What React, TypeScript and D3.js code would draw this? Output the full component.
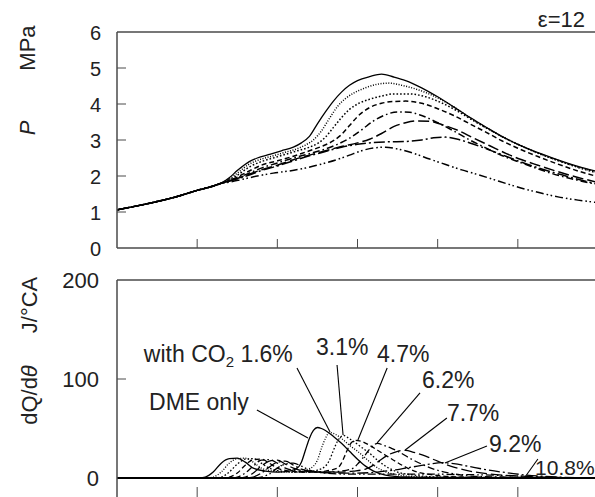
import React from "react";
import * as d3 from "d3";

type Pt = [number, number];

// crank angle ticks (deg) and value ticks
const xTickValues = [-40, -20, 0, 20, 40];
const pTickValues = [0, 1, 2, 3, 4, 5, 6];
const qTickValues = [0, 100, 200];

const seriesNames = ["DME only", "1.6%", "3.1%", "4.7%", "6.2%", "7.7%", "9.2%", "10.8%"];

// common compression part of the pressure traces (MPa)
const compression: Pt[] = [[-60, 1.06], [-55, 1.17], [-50, 1.29], [-45, 1.43], [-40, 1.6], [-36, 1.72], [-34, 1.8]];

const pDME: Pt[] = [[-32, 1.95], [-30, 2.15], [-27, 2.4], [-25, 2.5], [-22, 2.6], [-19, 2.7], [-16, 2.8], [-14, 2.92], [-12, 3.1], [-10, 3.45], [-8, 3.78], [-6, 4.08], [-4, 4.33], [-2, 4.52], [0, 4.65], [3, 4.76], [6, 4.83], [9, 4.75], [12, 4.65], [16, 4.45], [20, 4.2], [24, 3.92], [28, 3.63], [32, 3.36], [36, 3.1], [40, 2.88], [45, 2.65], [50, 2.45], [55, 2.27], [60, 2.12]];
const p16: Pt[] = [[-32, 1.92], [-30, 2.08], [-27, 2.33], [-24, 2.47], [-21, 2.56], [-18, 2.66], [-15, 2.76], [-13, 2.86], [-11, 3.0], [-9, 3.25], [-7, 3.6], [-5, 3.93], [-3, 4.15], [-1, 4.3], [2, 4.45], [5, 4.55], [8, 4.58], [11, 4.52], [15, 4.4], [20, 4.17], [24, 3.92], [28, 3.62], [32, 3.35], [36, 3.1], [40, 2.88], [45, 2.63], [50, 2.43], [55, 2.25], [60, 2.1]];
const p31: Pt[] = [[-32, 1.9], [-30, 2.02], [-27, 2.25], [-24, 2.4], [-21, 2.5], [-18, 2.6], [-15, 2.7], [-12, 2.8], [-10, 2.9], [-8, 3.08], [-6, 3.35], [-4, 3.62], [-2, 3.85], [0, 4.0], [3, 4.13], [6, 4.22], [9, 4.28], [13, 4.28], [17, 4.2], [21, 4.03], [25, 3.8], [29, 3.53], [33, 3.28], [37, 3.04], [41, 2.83], [45, 2.64], [50, 2.43], [55, 2.24], [60, 2.08]];
const p47: Pt[] = [[-32, 1.88], [-30, 1.97], [-27, 2.14], [-24, 2.3], [-20, 2.42], [-16, 2.55], [-12, 2.7], [-9, 2.82], [-6, 2.98], [-4, 3.15], [-2, 3.4], [0, 3.65], [3, 3.9], [6, 4.02], [9, 4.07], [12, 4.08], [16, 4.02], [20, 3.87], [24, 3.68], [28, 3.45], [32, 3.22], [36, 2.98], [40, 2.77], [45, 2.54], [50, 2.33], [55, 2.14], [60, 1.98]];
const p62: Pt[] = [[-32, 1.87], [-30, 1.95], [-27, 2.08], [-24, 2.22], [-20, 2.36], [-16, 2.5], [-12, 2.62], [-8, 2.75], [-5, 2.88], [-2, 3.05], [1, 3.28], [4, 3.53], [7, 3.7], [10, 3.78], [13, 3.77], [16, 3.68], [20, 3.48], [24, 3.25], [28, 3.0], [32, 2.78], [36, 2.57], [40, 2.4], [45, 2.2], [50, 2.02], [55, 1.88], [60, 1.76]];
const p77: Pt[] = [[-32, 1.86], [-30, 1.93], [-27, 2.05], [-24, 2.17], [-20, 2.3], [-16, 2.45], [-12, 2.58], [-8, 2.7], [-4, 2.82], [0, 2.92], [3, 3.02], [6, 3.18], [9, 3.37], [12, 3.48], [15, 3.53], [18, 3.52], [21, 3.43], [25, 3.27], [29, 3.05], [33, 2.84], [37, 2.63], [41, 2.45], [45, 2.3], [50, 2.12], [55, 1.96], [60, 1.82]];
const p92: Pt[] = [[-32, 1.85], [-30, 1.92], [-27, 2.03], [-24, 2.15], [-20, 2.28], [-16, 2.42], [-12, 2.56], [-8, 2.68], [-4, 2.8], [0, 2.88], [4, 2.93], [8, 2.95], [12, 2.96], [16, 3.0], [19, 3.06], [22, 3.08], [25, 3.02], [29, 2.88], [33, 2.72], [37, 2.55], [41, 2.38], [45, 2.23], [50, 2.06], [55, 1.91], [60, 1.77]];
const p108: Pt[] = [[-32, 1.83], [-29, 1.9], [-25, 2.0], [-21, 2.08], [-17, 2.14], [-13, 2.22], [-9, 2.33], [-5, 2.46], [-2, 2.58], [1, 2.7], [4, 2.78], [7, 2.8], [10, 2.75], [14, 2.63], [18, 2.47], [22, 2.32], [26, 2.17], [30, 2.04], [34, 1.9], [38, 1.76], [42, 1.63], [46, 1.52], [50, 1.42], [55, 1.33], [60, 1.26]];

// heat release rate (J/°CA)
const qDME: Pt[] = [[-60, 0], [-40, 0], [-38, 1], [-36, 6], [-34, 15], [-32, 19.5], [-30, 20], [-28, 16], [-26, 10], [-23, 7], [-20, 6], [-17, 7], [-15, 10], [-14, 16], [-13, 28], [-12, 40], [-11, 48], [-10, 51], [-9, 50], [-8, 48], [-6, 42], [-4, 35], [-2, 27], [0, 19], [2, 12], [4, 7], [7, 3], [12, 1], [20, 0.5], [60, 0]];
const q16: Pt[] = [[-60, 0], [-38, 0], [-36, 1], [-34, 6], [-32, 15], [-30, 19.5], [-28, 20], [-26, 16], [-24, 10], [-21, 7], [-18, 6], [-15, 6], [-13, 8], [-11, 12], [-10, 18], [-9, 30], [-8, 40], [-7, 46], [-6, 45], [-4, 40], [-2, 33], [0, 27], [2, 20], [4, 13], [6, 8], [9, 4], [14, 1.5], [22, 0.5], [60, 0]];
const q31: Pt[] = [[-60, 0], [-36, 0], [-34, 1], [-32, 6], [-30, 14], [-28, 19], [-26, 19.5], [-24, 15], [-22, 10], [-19, 7], [-16, 6], [-13, 6], [-10, 8], [-8, 12], [-7, 18], [-6, 28], [-5, 37], [-3.5, 43], [-2.5, 41], [-1, 37], [1, 31], [3, 25], [5, 18], [7, 12], [10, 6], [14, 3], [20, 1], [30, 0.5], [60, 0]];
const q47: Pt[] = [[-60, 0], [-34, 0], [-32, 1], [-30, 5], [-28, 13], [-26, 18.5], [-24, 19], [-22, 15], [-20, 10], [-17, 7], [-14, 6], [-11, 6], [-8, 7], [-5, 10], [-4, 15], [-3, 24], [-2, 33], [-0.5, 38], [1, 37], [3, 33], [5, 28], [7, 23], [9, 18], [12, 11], [15, 6], [19, 3], [26, 1], [60, 0]];
const q62: Pt[] = [[-60, 0], [-32, 0], [-30, 1], [-28, 5], [-26, 12], [-24, 18], [-22, 18.5], [-20, 15], [-18, 10], [-15, 7], [-12, 6], [-8, 6], [-4, 7], [-1, 10], [0, 14], [1.5, 21], [3, 29], [5, 35], [6.5, 33], [8.5, 30], [10.5, 26], [13, 20], [16, 14], [19, 9], [23, 5], [28, 2], [36, 1], [60, 0]];
const q77: Pt[] = [[-60, 0], [-30, 0], [-28, 1], [-26, 5], [-24, 12], [-22, 17], [-20, 18], [-18, 14], [-16, 10], [-13, 7], [-9, 6], [-5, 6], [-1, 7], [2, 9], [4, 13], [6, 19], [8, 24], [10, 27], [12, 28], [14, 26], [17, 22], [20, 17], [24, 11], [28, 7], [33, 4], [40, 2], [50, 0.5], [60, 0]];
const q92: Pt[] = [[-60, 0], [-28, 0], [-26, 1], [-24, 5], [-22, 11], [-20, 16], [-18, 17], [-16, 13], [-14, 9], [-10, 6], [-5, 5], [0, 5], [5, 6], [9, 8], [12, 10], [15, 12], [18, 14], [21, 15.5], [24, 14.5], [28, 11.5], [32, 8.5], [36, 6], [42, 3], [50, 1], [60, 0]];
const q108: Pt[] = [[-60, 0], [-26, 0], [-24, 1], [-22, 4], [-20, 10], [-18, 14], [-16, 15], [-14, 12], [-12, 8], [-8, 5], [-3, 4], [3, 4], [10, 4], [18, 4], [25, 3.5], [33, 3], [40, 2], [45, 1], [50, 0.5], [60, 0]];

const pressureSeries: Pt[][] = [pDME, p16, p31, p47, p62, p77, p92, p108].map((s) => compression.concat(s));
const heatSeries: Pt[][] = [qDME, q16, q31, q47, q62, q77, q92, q108];

// line styles per series
const dashes = ["", "1,1.6", "1.6,2", "5,3", "7,3,1.6,3", "11,4", "11,3,2,3", "8,3,1.6,2.5,1.6,3"];

// annotation labels: text position and leader line, in data units (deg, J/°CA)
const annLabels = ["DME only", "1.6%", "3.1%", "4.7%", "6.2%", "7.7%", "9.2%", "10.8%"];
const annTextPos: Pt[] = [[-52.0, 68.7], [-53.3, 117.2], [-10.35, 124.2], [4.87, 117.2], [16.1, 90.9], [22.3, 57.6], [32.8, 26.3], [44.3, 3.0]];
const annLineFrom: Pt[] = [[-25.1, 68.7], [-15.1, 111.1], [-5.1, 114.1], [7.4, 111.1], [15.6, 85.9], [22.3, 60.6], [32.3, 32.3], [45.0, 19.2]];
const annLineTo: Pt[] = [[-12.35, 40.4], [-6.85, 46.5], [-3.6, 43.4], [0.1, 38.4], [4.9, 35.4], [11.9, 28.3], [21.8, 15.2], [41.8, 1.0]];

const FONT = "'Liberation Sans', Arial, Helvetica, sans-serif";

export default function App() {
  const W = 595;
  const H = 497;
  const x = d3.scaleLinear().domain([-60, 60]).range([117, 598]);
  const yP = d3.scaleLinear().domain([0, 6]).range([248, 32]);
  const yQ = d3.scaleLinear().domain([-20, 200]).range([497.8, 280]);

  const lineP = d3.line<Pt>().x((d) => x(d[0])).y((d) => yP(d[1])).curve(d3.curveMonotoneX);
  const lineQ = d3.line<Pt>().x((d) => x(d[0])).y((d) => yQ(d[1])).curve(d3.curveMonotoneX);

  const x0 = x(-60);
  const frame = "#4a4a4a";

  return (
    <svg
      width={W}
      height={H}
      style={{ position: "absolute", left: 0, top: 0, background: "#fff", fontFamily: FONT }}
    >
      <defs>
        <clipPath id="clipP">
          <rect x={x0} y={yP(6)} width={W - x0} height={yP(0) - yP(6)} />
        </clipPath>
        <clipPath id="clipQ">
          <rect x={x0} y={yQ(200)} width={W - x0} height={H - yQ(200)} />
        </clipPath>
      </defs>
      <rect x={0} y={0} width={W} height={H} fill="#fff" />

      {/* ===== Top panel: pressure ===== */}
      <g clipPath="url(#clipP)">
        {pressureSeries.map((s, i) => (
          <path
            key={i}
            d={lineP(s) || ""}
            fill="none"
            stroke="#000"
            strokeWidth={i === 0 ? 1.3 : 1.5}
            strokeDasharray={dashes[i] || undefined}
          />
        ))}
      </g>
      <line x1={x0} x2={W} y1={yP(6)} y2={yP(6)} stroke={frame} strokeWidth={1.5} />
      <line x1={x0} x2={W} y1={yP(0)} y2={yP(0)} stroke={frame} strokeWidth={1.5} />
      <line x1={x0} x2={x0} y1={yP(6)} y2={yP(0)} stroke={frame} strokeWidth={1.5} />
      {pTickValues.map((v) => (
        <g key={"pt" + v}>
          {v > 0 && v < 6 && <line x1={x0} x2={x0 + 9} y1={yP(v)} y2={yP(v)} stroke={frame} strokeWidth={1} />}
          <text x={101} y={yP(v)} dy="0.4em" textAnchor="end" fontSize={20} fill="#222">
            {v}
          </text>
        </g>
      ))}
      {xTickValues.map((v) => (
        <line key={"xp" + v} x1={x(v)} x2={x(v)} y1={yP(0)} y2={yP(0) - 9} stroke={frame} strokeWidth={1} />
      ))}
      <text x={585} y={27} textAnchor="end" fontSize={22} fill="#222">
        ε=12
      </text>
      <text transform="translate(35,48) rotate(-90)" textAnchor="middle" fontSize={22} fill="#222">
        MPa
      </text>
      <text transform="translate(35,128) rotate(-90)" textAnchor="middle" fontSize={22} fontStyle="italic" fill="#222">
        P
      </text>

      {/* ===== Bottom panel: heat release rate ===== */}
      <line x1={x0} x2={W} y1={yQ(0)} y2={yQ(0)} stroke="#000" strokeWidth={2} />
      <g clipPath="url(#clipQ)">
        {heatSeries.map((s, i) => (
          <path
            key={i}
            d={lineQ(s) || ""}
            fill="none"
            stroke="#000"
            strokeWidth={1.3}
            strokeDasharray={dashes[i] || undefined}
          />
        ))}
      </g>
      <line x1={x0} x2={W} y1={yQ(200)} y2={yQ(200)} stroke={frame} strokeWidth={1.5} />
      <line x1={x0} x2={x0} y1={yQ(200)} y2={H} stroke={frame} strokeWidth={1.5} />
      {qTickValues.map((v) => (
        <g key={"qt" + v}>
          {v === 100 && <line x1={x0} x2={x0 + 9} y1={yQ(v)} y2={yQ(v)} stroke={frame} strokeWidth={1} />}
          <text x={99} y={yQ(v)} dy="0.36em" textAnchor="end" fontSize={22} fill="#222">
            {v}
          </text>
        </g>
      ))}
      {xTickValues.map((v) => (
        <line key={"xq" + v} x1={x(v)} x2={x(v)} y1={H} y2={H - 10} stroke={frame} strokeWidth={1} />
      ))}
      <text transform="translate(37,305) rotate(-90)" textAnchor="middle" fontSize={22} fill="#222">
        J/°CA
      </text>
      <text transform="translate(37,395) rotate(-90)" textAnchor="middle" fontSize={22} fill="#222">
        dQ/d<tspan fontStyle="italic">θ</tspan>
      </text>

      {/* annotations */}
      {annLabels.map((lab, i) => (
        <line
          key={"al" + i}
          x1={x(annLineFrom[i][0])}
          y1={yQ(annLineFrom[i][1])}
          x2={x(annLineTo[i][0])}
          y2={yQ(annLineTo[i][1])}
          stroke="#000"
          strokeWidth={1.1}
        />
      ))}
      {annLabels.map((lab, i) => (
        <text
          key={"at" + i}
          x={x(annTextPos[i][0])}
          y={yQ(annTextPos[i][1])}
          fontSize={i === 7 ? 21 : 23}
          fill="#222"
        >
          {i === 1 ? (
            <>
              with CO<tspan fontSize={15} dy={5}>2</tspan>
              <tspan dy={-5}> {lab}</tspan>
            </>
          ) : (
            lab
          )}
        </text>
      ))}
    </svg>
  );
}
